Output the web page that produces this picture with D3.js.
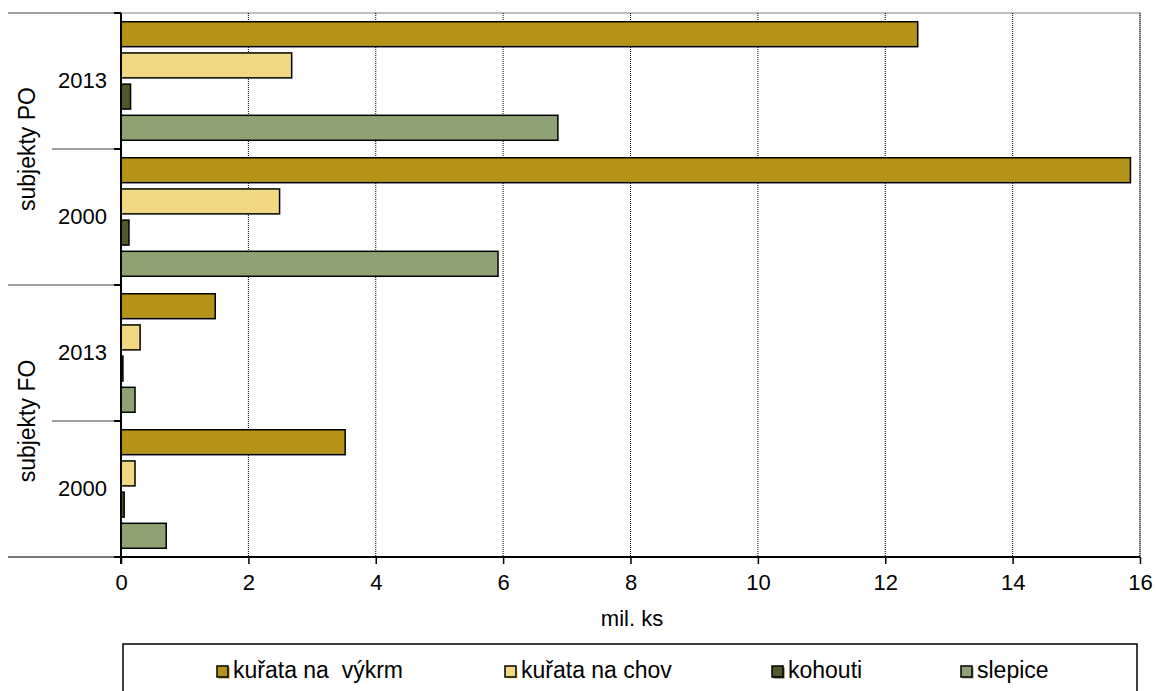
<!DOCTYPE html>
<html><head><meta charset="utf-8">
<script src="https://cdn.jsdelivr.net/npm/d3@7"></script>
<style>body{margin:0;background:#fff}svg{display:block;font-family:"Liberation Sans",Arial,sans-serif}</style>
</head><body><svg id="c" width="1156" height="691"></svg>
<script>
const groups = ["subjekty PO", "subjekty FO"];
const years = ["2013", "2000"];
const categories = ["PO 2013", "PO 2000", "FO 2013", "FO 2000"];
const series = ["kuřata na  výkrm", "kuřata na chov", "kohouti", "slepice"];
const vykrm = [12.51, 15.85, 1.48, 3.52];
const chov = [2.68, 2.49, 0.30, 0.22];
const kohouti = [0.15, 0.125, 0.03, 0.05];
const slepice = [6.86, 5.92, 0.22, 0.71];
const xTicks = [0, 2, 4, 6, 8, 10, 12, 14, 16];
const colors = ["#B59318", "#F2D882", "#4F5A2A", "#8EA274"];
const values = [vykrm, chov, kohouti, slepice];

const FS = 22;
const svg = d3.select("#c");
const L = 121, R = 1140, T = 13, B = 557;
const x = d3.scaleLinear().domain([0, 16]).range([L, R]);
const y = d3.scaleBand().domain(categories).range([T, B]).padding(0);
const yi = d3.scaleBand().domain(series).range([0, y.bandwidth()]).paddingInner(0.2).paddingOuter(0.28);

// plot border
svg.append("rect").attr("x", L).attr("y", T).attr("width", R - L).attr("height", B - T)
  .attr("fill", "none").attr("stroke", "#808080").attr("stroke-width", 1);

// gridlines
svg.append("g").selectAll("line").data(xTicks.slice(1)).join("line")
  .attr("x1", d => x(d)).attr("x2", d => x(d)).attr("y1", T).attr("y2", B)
  .attr("stroke", "#000").attr("stroke-width", 1).attr("stroke-dasharray", "1,1");

// bars
categories.forEach((c, ci) => {
  series.forEach((s, si) => {
    svg.append("rect")
      .attr("x", x(0)).attr("y", y(c) + yi(s))
      .attr("width", x(values[si][ci]) - x(0)).attr("height", yi.bandwidth())
      .attr("fill", colors[si]).attr("stroke", "#000").attr("stroke-width", 1.5);
  });
});

// x axis
const xa = svg.append("g").attr("transform", `translate(0,${B})`)
  .call(d3.axisBottom(x).tickValues(xTicks).tickSize(7).tickPadding(10).tickFormat(d3.format("d")));
xa.select(".domain").remove();
xa.selectAll("line").attr("stroke", "#000").attr("stroke-width", 1.5);
xa.selectAll("text").style("font-size", FS + "px").attr("fill", "#000").style("font-family", "Liberation Sans, Arial, sans-serif");
svg.append("line").attr("x1", 8).attr("x2", L).attr("y1", B).attr("y2", B).attr("stroke", "#555").attr("stroke-width", 1);
svg.append("line").attr("x1", L).attr("x2", R).attr("y1", B).attr("y2", B).attr("stroke", "#000").attr("stroke-width", 2);

// y axis line
svg.append("line").attr("x1", L).attr("x2", L).attr("y1", T).attr("y2", B + 7).attr("stroke", "#000").attr("stroke-width", 2);

// category separators
const bounds = categories.map(c => y(c)).concat([B]);
bounds.forEach((b, i) => {
  const x1 = (i % 2 === 0) ? 8 : 52;
  svg.append("line").attr("x1", x1).attr("x2", L).attr("y1", b).attr("y2", b).attr("stroke", "#444").attr("stroke-width", 1);
  svg.append("line").attr("x1", L - 7).attr("x2", L).attr("y1", b).attr("y2", b).attr("stroke", "#000").attr("stroke-width", 2);
});

// year labels
categories.forEach((c, ci) => {
  svg.append("text").attr("x", 107).attr("y", y(c) + y.bandwidth() / 2 + 1)
    .attr("text-anchor", "end").attr("dominant-baseline", "middle")
    .style("font-size", FS + "px").text(years[ci % 2]);
});
// group labels
groups.forEach((g, gi) => {
  const cy = y(categories[gi * 2]) + y.bandwidth();
  svg.append("text").attr("transform", `translate(29,${cy}) rotate(-90)`)
    .attr("text-anchor", "middle").attr("dominant-baseline", "middle")
    .style("font-size", (FS + 1) + "px").text(g);
});

// x title
svg.append("text").attr("x", 632).attr("y", 620).attr("text-anchor", "middle")
  .attr("dominant-baseline", "middle").style("font-size", FS + "px").text("mil. ks");

// legend
svg.append("rect").attr("x", 123).attr("y", 644).attr("width", 1014).attr("height", 60)
  .attr("fill", "#fff").attr("stroke", "#000").attr("stroke-width", 1.5);
const legX = [217, 505, 772, 961];
series.forEach((s, i) => {
  svg.append("rect").attr("x", legX[i] + 1.5).attr("y", 667.5).attr("width", 11).attr("height", 11).attr("fill", colors[i]);
  svg.append("rect").attr("x", legX[i]).attr("y", 666).attr("width", 11).attr("height", 11)
    .attr("fill", colors[i]).attr("stroke", "#000").attr("stroke-width", 1.5);
  svg.append("text").attr("x", legX[i] + 16).attr("y", 672).attr("dominant-baseline", "middle")
    .style("font-size", (FS + 1) + "px").style("white-space", "pre").text(s);
});
</script></body></html>
